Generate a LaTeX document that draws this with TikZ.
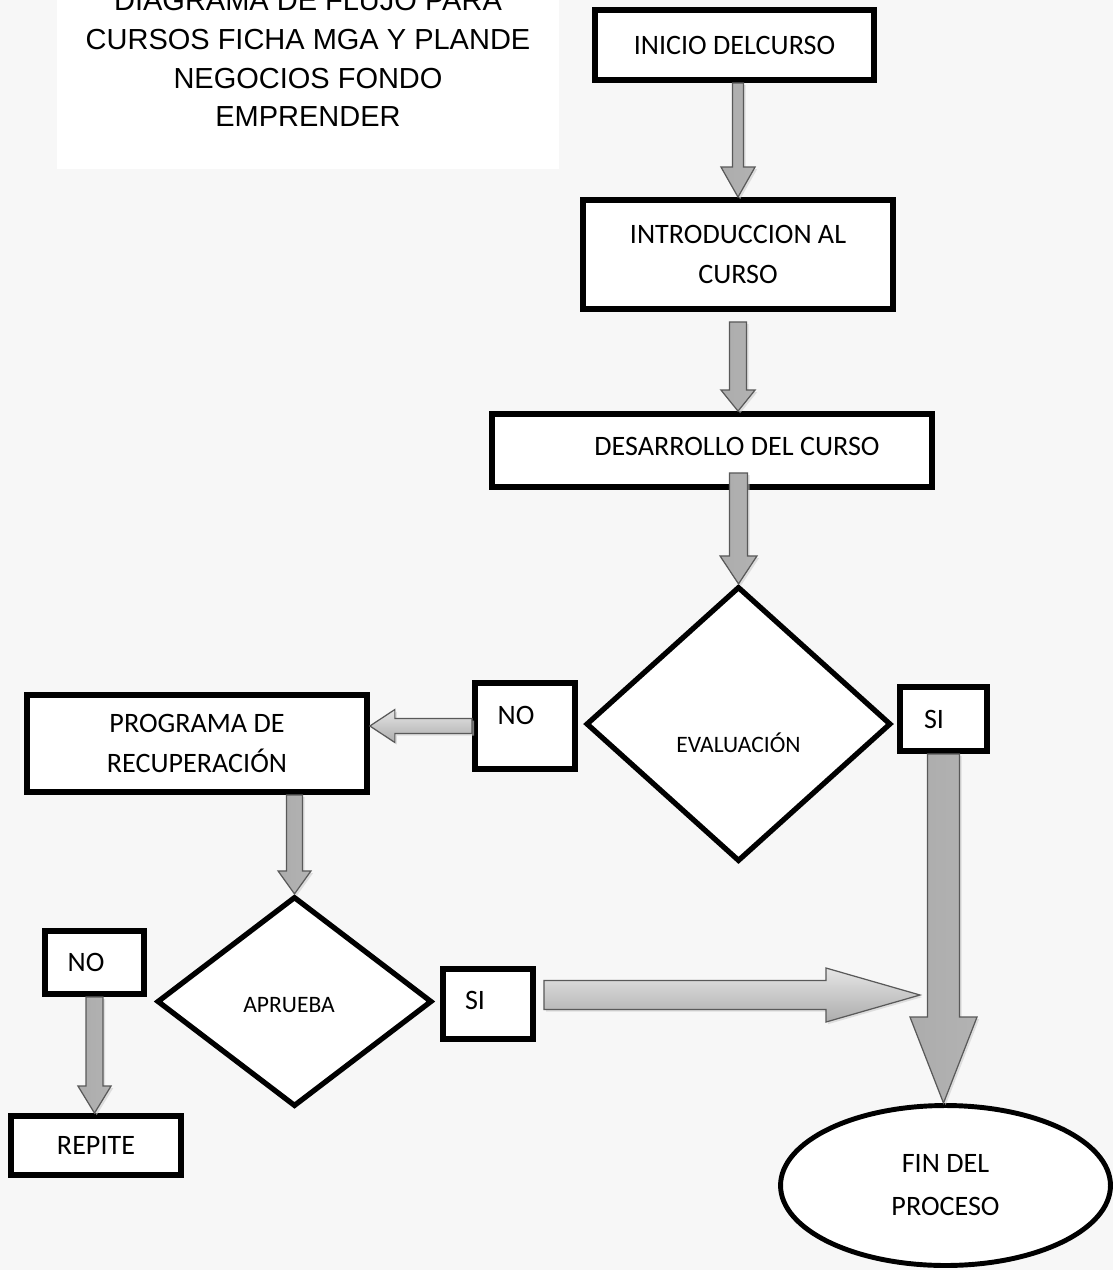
\documentclass[tikz,border=0pt]{standalone}
\usepackage{fontspec}
\setmainfont{Carlito}
\newfontfamily\titulofont{Liberation Sans}
\usetikzlibrary{calc,shapes.geometric,shadows}
\definecolor{fondo}{HTML}{F7F7F7}

% flecha de bloque: [estilo]{desde}{hasta}{medio cuerpo}{media punta}{largo punta}
\newcommand{\flecha}[6][]{%
  \coordinate (fbase) at ($(#3)!#6!(#2)$);
  \draw[flecha,#1] ($(#2)!#4!90:(#3)$) -- ($(fbase)!#4!90:(#3)$)
    -- ($(fbase)!#5!90:(#3)$) -- (#3) -- ($(fbase)!#5!-90:(#3)$)
    -- ($(fbase)!#4!-90:(#3)$) -- ($(#2)!#4!-90:(#3)$) -- cycle;}

\begin{document}
\begin{tikzpicture}[x=0.02cm,y=-0.02cm,
  caja/.style={draw=black,line width=3.6pt,fill=white,inner sep=0pt,
    font=\fontsize{16}{23}\selectfont},
  rombo/.style={diamond,draw=black,line width=3pt,fill=white,inner sep=0pt,
    font=\fontsize{13.4}{16}\selectfont},
  flecha/.style={draw=gray!70!black,line width=0.7pt,
    drop shadow={shadow xshift=1.2pt,shadow yshift=-1.2pt,fill=gray!40,opacity=0.6}},
  abajo/.style={left color=gray!65,middle color=gray!12,right color=gray!60},
  lado/.style={top color=gray!20,bottom color=gray!65}]
\useasboundingbox (0,0) rectangle (1113,1270);
\clip (0,0) rectangle (1113,1270);
\fill[fondo] (0,0) rectangle (1113,1270);

% titulo
\fill[white] (57,0) rectangle (559,169);
\node[font=\titulofont\fontsize{16.5}{22.1}\selectfont,align=center] (titulo) at (308,58.5)
  {DIAGRAMA DE FLUJO PARA\\CURSOS FICHA MGA Y PLANDE\\NEGOCIOS FONDO\\EMPRENDER};

% rama principal
\node[caja,minimum width=5.57cm,minimum height=1.39cm] (inicio) at (734.5,45) {INICIO DELCURSO};
\node[caja,align=center,minimum width=6.19cm,minimum height=2.17cm] (intro) at (738,254.5)
  {INTRODUCCION AL\\CURSO};
\node[caja,minimum width=8.79cm,minimum height=1.45cm,text height=0.36cm,text depth=0.18cm]
  (desarrollo) at (712,450.5) {\hspace*{1cm}DESARROLLO DEL CURSO};
\node[rombo,minimum width=6.1cm,minimum height=5.5cm,text height=1.14cm,text depth=0pt]
  (eval) at (738.5,724) {EVALUACIÓN};
\node[caja,minimum width=1.99cm,minimum height=1.71cm,text height=0.36cm,text depth=0.44cm]
  (no1) at (525,726) {NO\hspace*{0.36cm}};
\node[caja,minimum width=1.73cm,minimum height=1.27cm] (si1) at (943.5,719) {SI\hspace*{0.38cm}};

% recuperacion
\node[caja,align=center,minimum width=6.79cm,minimum height=1.93cm] (prog) at (197,743.5)
  {PROGRAMA DE\\RECUPERACIÓN};
\node[rombo,minimum width=5.5cm,minimum height=4.2cm,text height=0.44cm,text depth=0pt]
  (aprueba) at (294.5,1001.5) {APRUEBA\hspace*{0.22cm}};
\node[caja,minimum width=1.97cm,minimum height=1.25cm] (no2) at (94.5,962.5) {NO\hspace*{0.34cm}};
\node[caja,minimum width=1.79cm,minimum height=1.39cm,text height=0.36cm,text depth=0.16cm]
  (si2) at (488,1004) {SI\hspace*{0.52cm}};
\node[caja,minimum width=3.39cm,minimum height=1.17cm] (repite) at (96,1145.5) {REPITE};
\node[ellipse,draw=black,line width=2.8pt,fill=white,inner sep=0pt,minimum width=6.6cm,
  minimum height=3.2cm,align=center,font=\fontsize{16}{24.5}\selectfont] (fin) at (945.5,1185.5)
  {FIN DEL\\PROCESO};

% flechas
\coordinate (i2) at ($(intro.south)+(0,10)$);
\coordinate (d3) at ($(desarrollo.south -| eval.north)+(0,-17)$);
\coordinate (s7) at ($(si2.east)+(8,-9)$);
\coordinate (llegada) at (920,995);
\flecha[abajo]{inicio.south -| intro.north}{intro.north}{0.11cm}{0.34cm}{0.6cm}
\flecha[abajo]{i2}{desarrollo.north -| i2}{0.17cm}{0.34cm}{0.42cm}
\flecha[abajo]{d3}{eval.north}{0.18cm}{0.37cm}{0.56cm}
\flecha[lado]{no1.west}{prog.east |- no1.west}{0.15cm}{0.33cm}{0.5cm}
\flecha[abajo]{prog.south -| aprueba.north}{aprueba.north}{0.16cm}{0.33cm}{0.46cm}
\flecha[abajo]{no2.south}{repite.north -| no2.south}{0.17cm}{0.33cm}{0.54cm}
\flecha[lado]{s7}{llegada}{0.29cm}{0.54cm}{1.88cm}
\flecha[abajo]{si1.south}{fin.north -| si1.south}{0.32cm}{0.67cm}{1.72cm}
\end{tikzpicture}
\end{document}
